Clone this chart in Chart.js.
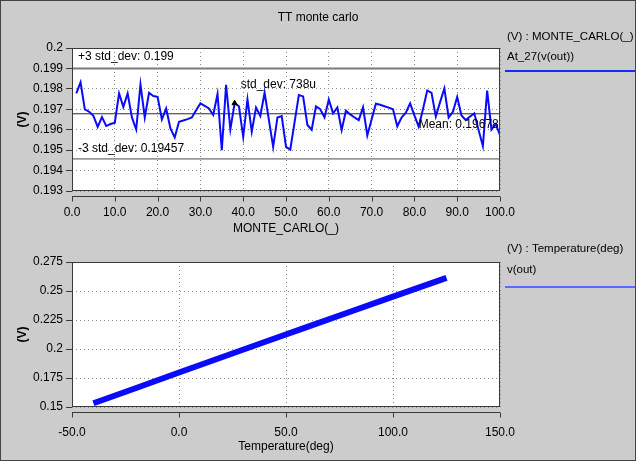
<!DOCTYPE html>
<html>
<head>
<meta charset="utf-8">
<title>TT monte carlo</title>
<script src="https://cdn.jsdelivr.net/npm/chart.js@4.4.1/dist/chart.umd.min.js"></script>
<style>
  html, body { margin: 0; padding: 0; background: #cccccc; }
  #page { position: relative; width: 636px; height: 461px; overflow: hidden; background: #cccccc; }
  #page canvas { position: absolute; left: 0; }
  #topChart { top: 0; }
  #botChart { top: 235px; }
  #frame { position: absolute; left: 0; top: 0; width: 636px; height: 461px; box-sizing: border-box; border: 1px solid #444; pointer-events: none; }
</style>
</head>
<body>
<div id="page">
  <canvas id="topChart" width="636" height="240"></canvas>
  <canvas id="botChart" width="636" height="226"></canvas>
  <div id="frame"></div>
</div>
<script>
// --- Data: monte carlo runs (V at 27 deg) ---
const mcValues = [
  0.19778, 0.19832, 0.19700, 0.19688, 0.19668, 0.19614, 0.19662, 0.19618, 0.19628, 0.19634,
  0.19778, 0.19712, 0.19778, 0.19660, 0.19601, 0.19822, 0.19660, 0.19781, 0.19765, 0.19761,
  0.19650, 0.19704, 0.19606, 0.19562, 0.19639, 0.19645, 0.19652, 0.19660, 0.19695, 0.19729,
  0.19717, 0.19704, 0.19672, 0.19775, 0.19500, 0.19820, 0.19601, 0.19730, 0.19715, 0.19565,
  0.19748, 0.19590, 0.19708, 0.19667, 0.19781, 0.19648, 0.19516, 0.19660, 0.19667, 0.19516,
  0.19503, 0.19636, 0.19770, 0.19763, 0.19623, 0.19600, 0.19714, 0.19700, 0.19660, 0.19748,
  0.19680, 0.19709, 0.19598, 0.19693, 0.19675, 0.19660, 0.19647, 0.19710, 0.19572, 0.19650,
  0.19727, 0.19722, 0.19715, 0.19708, 0.19700, 0.19617, 0.19660, 0.19683, 0.19729, 0.19670,
  0.19615, 0.19700, 0.19792, 0.19780, 0.19665, 0.19735, 0.19802, 0.19660, 0.19688, 0.19760,
  0.19670, 0.19647, 0.19665, 0.19680, 0.19598, 0.19520, 0.19792, 0.19600, 0.19628, 0.19574
];
const mcRuns = mcValues.map((_, i) => i + 1);

// statistics shown on the plot
const plus3 = 0.199;
const minus3 = 0.19457;
const meanV = 0.19678;
const stdDevText = '738u';
const markerRun = [38];
const markerVal = [0.19730];

// tick labels
const xTicksTop = [0, 10, 20, 30, 40, 50, 60, 70, 80, 90, 100];
const yTicksTop = [0.193, 0.194, 0.195, 0.196, 0.197, 0.198, 0.199, 0.2];

// --- Data: v(out) vs temperature ---
const tempC = [-40, -20, 0, 20, 40, 60, 80, 100, 125];
const vOut = [0.1532, 0.1664, 0.1797, 0.1929, 0.2060, 0.2191, 0.2321, 0.2451, 0.2613];
const xTicksBot = [-50, 0, 50, 100, 150];
const yTicksBot = [0.15, 0.175, 0.2, 0.225, 0.25, 0.275];

// --- Style ---
const FONT = '"Liberation Sans", Arial, sans-serif';
const BLUE = '#0a0aff';
Chart.defaults.font.family = FONT;
Chart.defaults.font.size = 12;
Chart.defaults.color = '#000';

const fmtV = v => String(parseFloat(v.toFixed(4)));
const fmtX = v => v.toFixed(1);

// white plot box, box border, detached x axis, and the free texts
const plotFrame = {
  id: 'plotFrame',
  beforeDraw(chart) {
    const { ctx, chartArea: a } = chart;
    ctx.save();
    ctx.fillStyle = '#ffffff';
    ctx.fillRect(a.left, a.top, a.right - a.left, a.bottom - a.top);
    ctx.restore();
  },
  afterDraw(chart, args, opts) {
    const { ctx, chartArea: a, scales } = chart;
    ctx.save();
    ctx.strokeStyle = '#3a3a3a';
    ctx.lineWidth = 1;
    ctx.strokeRect(a.left + 0.5, a.top + 0.5, a.right - a.left - 1, a.bottom - a.top - 1);

    // x axis sits a little below the box
    const ay = Math.round(a.bottom + 5) + 0.5;
    ctx.beginPath();
    ctx.moveTo(a.left, ay);
    ctx.lineTo(a.right, ay);
    scales.x.ticks.forEach(t => {
      const px = Math.round(scales.x.getPixelForValue(t.value)) + 0.5;
      ctx.moveTo(px, ay);
      ctx.lineTo(px, ay + 5);
    });
    ctx.stroke();

    ctx.fillStyle = '#000';
    ctx.font = '12px ' + FONT;
    ctx.textBaseline = 'middle';
    if (opts.title) {
      ctx.textAlign = 'center';
      ctx.fillText(opts.title, chart.width / 2, opts.titleY);
    }
    ctx.textAlign = 'left';
    (opts.notes || []).forEach(n => {
      ctx.fillText(n.text, scales.x.getPixelForValue(n.x) + (n.dx || 0), scales.y.getPixelForValue(n.y) + (n.dy || 0));
    });

    // right-hand legend
    const lg = opts.legend;
    ctx.font = '11.5px ' + FONT;
    ctx.fillText(lg.head, lg.x, lg.y0);
    ctx.fillText(lg.name, lg.x, lg.y1);
    ctx.strokeStyle = lg.color;
    ctx.lineWidth = 2;
    ctx.beginPath();
    ctx.moveTo(lg.x - 2, lg.lineY);
    ctx.lineTo(chart.width, lg.lineY);
    ctx.stroke();
    ctx.restore();
  }
};

function axes(xTicks, yTicks, xTitle, xAxisH, xPad, xTitlePad) {
  return {
    x: {
      type: 'linear',
      min: xTicks[0],
      max: xTicks[xTicks.length - 1],
      afterBuildTicks: s => { s.ticks = xTicks.map(v => ({ value: v })); },
      afterFit: s => { s.height = xAxisH; },
      ticks: { callback: fmtX, autoSkip: false, maxRotation: 0, padding: xPad },
      grid: { color: '#8a8a8a', drawTicks: false },
      border: { display: false, dash: [1, 3] },
      title: { display: true, text: xTitle, padding: { top: 0, bottom: xTitlePad } }
    },
    y: {
      type: 'linear',
      min: yTicks[0],
      max: yTicks[yTicks.length - 1],
      afterBuildTicks: s => { s.ticks = yTicks.map(v => ({ value: v })); },
      afterFit: s => { s.width = 72; },
      ticks: { callback: fmtV, padding: 3 },
      grid: { color: '#8a8a8a', tickLength: 6, tickColor: '#3a3a3a' },
      border: { display: false, dash: [1, 3] },
      title: { display: true, text: '(V)', font: { weight: 'bold' }, padding: { top: 15, bottom: 0 } }
    }
  };
}

const refLine = (y, color, width) => ({
  data: [{ x: xTicksTop[0], y }, { x: xTicksTop[xTicksTop.length - 1], y }],
  borderColor: color, borderWidth: width, pointRadius: 0, order: 3
});

new Chart(document.getElementById('topChart'), {
  type: 'line',
  data: {
    datasets: [
      {
        data: mcRuns.map((r, i) => ({ x: r, y: mcValues[i] })),
        borderColor: BLUE, borderWidth: 2, pointRadius: 0, tension: 0, order: 1
      },
      {
        type: 'scatter',
        data: markerRun.map((r, i) => ({ x: r, y: markerVal[i] })),
        pointStyle: 'triangle', pointRadius: 3, backgroundColor: '#000', borderColor: '#000', order: 0
      },
      refLine(plus3, '#7a7a7a', 2),
      refLine(minus3, '#4a4a4a', 1),
      refLine(meanV, '#2a2a2a', 1)
    ]
  },
  options: {
    responsive: false,
    animation: false,
    layout: { padding: { left: 0, right: 136, top: 48, bottom: 0 } },
    plugins: {
      legend: { display: false },
      tooltip: { enabled: false },
      plotFrame: {
        title: 'TT monte carlo', titleY: 18,
        notes: [
          { text: '+3 std_dev: ' + plus3, x: 0, y: plus3, dx: 6, dy: -12 },
          { text: '-3 std_dev: ' + minus3, x: 0, y: minus3, dx: 6, dy: -10 },
          { text: 'std_dev: ' + stdDevText, x: markerRun[0], y: markerVal[0], dx: 6, dy: -18 },
          { text: 'Mean: ' + meanV, x: 81, y: meanV, dx: 0, dy: 11 }
        ],
        legend: { head: '(V) : MONTE_CARLO(_)', name: 'At_27(v(out))', x: 507, y0: 37, y1: 57, lineY: 71, color: '#1a2af0' }
      }
    },
    scales: axes(xTicksTop, yTicksTop, 'MONTE_CARLO(_)', 49, 14, 4)
  },
  plugins: [plotFrame]
});

new Chart(document.getElementById('botChart'), {
  type: 'line',
  data: {
    datasets: [{
      data: tempC.map((t, i) => ({ x: t, y: vOut[i] })),
      borderColor: BLUE, borderWidth: 6, borderCapStyle: 'butt', pointRadius: 0, tension: 0
    }]
  },
  options: {
    responsive: false,
    animation: false,
    layout: { padding: { left: 0, right: 136, top: 27, bottom: 0 } },
    plugins: {
      legend: { display: false },
      tooltip: { enabled: false },
      plotFrame: {
        notes: [],
        legend: { head: '(V) : Temperature(deg)', name: 'v(out)', x: 507, y0: 14, y1: 35, lineY: 52, color: '#5b6bff' }
      }
    },
    scales: axes(xTicksBot, yTicksBot, 'Temperature(deg)', 54, 18, 7)
  },
  plugins: [plotFrame]
});
</script>
</body>
</html>
